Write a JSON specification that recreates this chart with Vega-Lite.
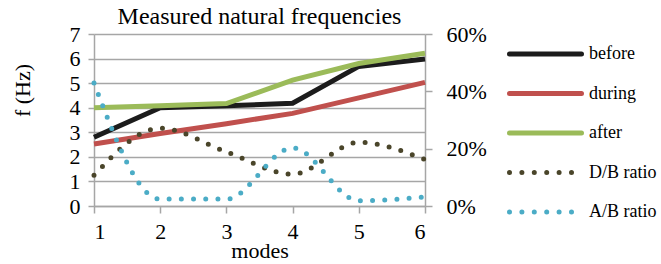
{
  "$schema": "https://vega.github.io/schema/vega-lite/v6.json",
  "width": 331,
  "height": 172,
  "autosize": {"type": "none"},
  "padding": {"left": 94, "top": 34, "right": 236, "bottom": 58},
  "background": "white",
  "config": {
    "view": {"stroke": null},
    "font": "Liberation Serif"
  },
  "title": {
    "text": "Measured natural frequencies",
    "font": "Liberation Serif",
    "fontSize": 24,
    "fontWeight": "normal",
    "color": "black",
    "anchor": "middle",
    "offset": -6
  },
  "data": {
    "values": [
      {"mode": 1, "series": "before", "value": 2.8},
      {"mode": 2, "series": "before", "value": 4.0},
      {"mode": 3, "series": "before", "value": 4.08},
      {"mode": 4, "series": "before", "value": 4.18},
      {"mode": 5, "series": "before", "value": 5.68},
      {"mode": 6, "series": "before", "value": 5.98},
      {"mode": 1, "series": "during", "value": 2.52},
      {"mode": 2, "series": "during", "value": 2.95},
      {"mode": 3, "series": "during", "value": 3.35},
      {"mode": 4, "series": "during", "value": 3.77},
      {"mode": 5, "series": "during", "value": 4.4},
      {"mode": 6, "series": "during", "value": 5.03},
      {"mode": 1, "series": "after", "value": 4.0},
      {"mode": 2, "series": "after", "value": 4.08},
      {"mode": 3, "series": "after", "value": 4.17},
      {"mode": 4, "series": "after", "value": 5.12},
      {"mode": 5, "series": "after", "value": 5.8},
      {"mode": 6, "series": "after", "value": 6.22},
      {"mode": 1, "series": "D/B ratio", "value": 0.107},
      {"mode": 2, "series": "D/B ratio", "value": 0.271},
      {"mode": 3, "series": "D/B ratio", "value": 0.189},
      {"mode": 4, "series": "D/B ratio", "value": 0.111},
      {"mode": 5, "series": "D/B ratio", "value": 0.222},
      {"mode": 6, "series": "D/B ratio", "value": 0.162},
      {"mode": 1, "series": "A/B ratio", "value": 0.429},
      {"mode": 2, "series": "A/B ratio", "value": 0.024},
      {"mode": 3, "series": "A/B ratio", "value": 0.024},
      {"mode": 4, "series": "A/B ratio", "value": 0.203},
      {"mode": 5, "series": "A/B ratio", "value": 0.018},
      {"mode": 6, "series": "A/B ratio", "value": 0.032}
    ]
  },
  "encoding": {
    "x": {
      "field": "mode",
      "type": "quantitative",
      "scale": {"domain": [1, 6], "nice": false, "zero": false},
      "axis": {
        "values": [1, 2, 3, 4, 5, 6],
        "title": "modes",
        "grid": false,
        "domainColor": "#a6a6a6",
        "domainWidth": 1.5,
        "tickColor": "#a6a6a6",
        "tickWidth": 1.5,
        "tickSize": 7,
        "labelFont": "Liberation Serif",
        "labelFontSize": 22,
        "labelColor": "black",
        "labelPadding": 8,
        "titleFont": "Liberation Serif",
        "titleFontSize": 22,
        "titleFontWeight": "normal",
        "titleColor": "black",
        "titleBaseline": "alphabetic",
        "titleY": 51
      }
    },
    "color": {
      "field": "series",
      "type": "nominal",
      "scale": {
        "domain": ["before", "during", "after", "D/B ratio", "A/B ratio"],
        "range": ["#1c1c1c", "#c0504d", "#9bbb59", "#4a452a", "#4bacc6"]
      },
      "sort": ["before", "during", "after", "D/B ratio", "A/B ratio"],
      "legend": {
        "title": null,
        "orient": "none",
        "legendX": 440,
        "legendY": 8.5,
        "symbolType": "M-4,0H4",
        "symbolSize": 324,
        "symbolStrokeWidth": 5,
        "labelFont": "Liberation Serif",
        "labelFontSize": 18,
        "labelColor": "black",
        "labelOffset": 32,
        "rowPadding": 17.5,
        "encode": {
          "symbols": {
            "update": {
              "strokeCap": {"value": "round"},
              "strokeDash": {"signal": "datum.value == 'D/B ratio' || datum.value == 'A/B ratio' ? [0, 12.4] : [1, 0]"}
            }
          }
        }
      }
    }
  },
  "layer": [
    {
      "transform": [{"filter": {"field": "series", "oneOf": ["before", "during", "after"]}}],
      "mark": {"type": "line", "strokeWidth": 5, "strokeJoin": "miter"},
      "encoding": {
        "y": {
          "field": "value",
          "type": "quantitative",
          "scale": {"domain": [0, 7], "nice": false},
          "axis": {
            "orient": "left",
            "values": [0, 1, 2, 3, 4, 5, 6, 7],
            "title": "f (Hz)",
            "grid": true,
            "gridColor": "#a6a6a6",
            "gridWidth": 1.5,
            "domainColor": "#a6a6a6",
            "domainWidth": 1.5,
            "tickColor": "#a6a6a6",
            "tickWidth": 1.5,
            "tickSize": 6,
            "labelFont": "Liberation Serif",
            "labelFontSize": 22,
            "labelColor": "black",
            "labelPadding": 8,
            "titleFont": "Liberation Serif",
            "titleFontSize": 22,
            "titleFontWeight": "normal",
            "titleColor": "black",
            "titleAngle": -90,
            "titleAlign": "center",
            "titleBaseline": "middle",
            "titleX": -72,
            "titleY": 56
          }
        },
        "order": {"field": "mode", "type": "quantitative"}
      }
    },
    {
      "transform": [{"filter": {"field": "series", "oneOf": ["D/B ratio", "A/B ratio"]}}],
      "mark": {"type": "line", "strokeWidth": 5, "interpolate": "monotone", "strokeDash": [0, 12.2], "strokeCap": "round"},
      "encoding": {
        "y": {
          "field": "value",
          "type": "quantitative",
          "scale": {"domain": [0, 0.6], "nice": false},
          "axis": {
            "orient": "right",
            "values": [0, 0.2, 0.4, 0.6],
            "format": ".0%",
            "title": null,
            "grid": false,
            "domainColor": "#a6a6a6",
            "domainWidth": 1.5,
            "tickColor": "#a6a6a6",
            "tickWidth": 1.5,
            "tickSize": 7,
            "labelFont": "Liberation Serif",
            "labelFontSize": 22,
            "labelColor": "black",
            "labelPadding": 14
          }
        },
        "order": {"field": "mode", "type": "quantitative"}
      }
    }
  ],
  "resolve": {"scale": {"y": "independent"}}
}
